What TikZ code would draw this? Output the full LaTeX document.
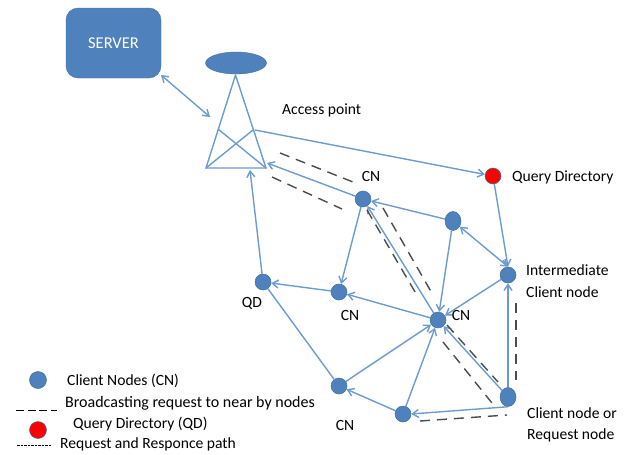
\documentclass[tikz,border=0pt]{standalone}
\usepackage{fontspec}
\setmainfont{Carlito}
\usetikzlibrary{arrows.meta,shapes.geometric}
\definecolor{nodeblue}{HTML}{4F81BD}
\definecolor{nodeedge}{HTML}{41719C}
\definecolor{linkblue}{HTML}{6B9BD0}
\tikzset{
  cnode/.style={circle,fill=nodeblue,draw=nodeedge,line width=0.5pt,minimum size=16pt,inner sep=0pt},
  tallnode/.style={ellipse,fill=nodeblue,draw=nodeedge,line width=0.5pt,minimum width=16pt,minimum height=19pt,inner sep=0pt},
  qnode/.style={circle,fill=red,draw=nodeedge,line width=0.5pt,minimum size=16pt,inner sep=0pt},
  link/.style={draw=linkblue,line width=1.4pt,-{Straight Barb[length=6pt,width=8pt]}},
  duplex/.style={draw=linkblue,line width=1.4pt,{Straight Barb[length=6pt,width=8pt]}-{Straight Barb[length=6pt,width=8pt]}},
  plain/.style={draw=linkblue,line width=1.4pt},
  bcast/.style={draw=black!70,line width=1.4pt,dash pattern=on 10pt off 7pt},
  lbl/.style={font=\fontsize{15.6pt}{18pt}\selectfont,text=black,inner sep=0pt}
}
\begin{document}
\begin{tikzpicture}[x=1pt,y=-1pt]
\useasboundingbox (0,0) rectangle (629,455);
% server and antenna
\node[draw=nodeedge,fill=nodeblue,rounded corners=12pt,minimum width=95pt,minimum height=70pt,inner sep=0pt,text=white,font=\fontsize{16.5pt}{18pt}\selectfont] (server) at (113.5,43) {SERVER};
\node[ellipse,draw=nodeedge,fill=nodeblue,minimum width=61pt,minimum height=22pt,inner sep=0pt] (dish) at (236,63) {};
% tower
\coordinate (apex) at (235.5,75);
\coordinate (bl) at (206,168);
\coordinate (br) at (266,168);
\coordinate (xa) at (253,130);
\coordinate (xb) at (218,129);
\coordinate (tin) at (210,117);
\coordinate (tout) at (255,130);
\coordinate (tcn) at (267,163);
\coordinate (tqd) at (250,170);
\coordinate (sout) at (161,75);
\draw[plain] (bl) -- (apex) -- (br) -- cycle;
\draw[plain] (bl) -- (xa);
\draw[plain] (xb) -- (br);
% nodes
\node[cnode] (cn1) at (363,199) {};
\node[tallnode] (n2) at (453,221) {};
\node[cnode] (inter) at (508,275) {};
\node[qnode] (qd) at (493,176) {};
\node[cnode] (cn3) at (339,292) {};
\node[cnode] (qdn) at (263,282) {};
\node[cnode] (center) at (438,320) {};
\node[cnode] (nbot) at (339,386) {};
\node[cnode] (nb2) at (403,414) {};
\node[tallnode] (client) at (508,397) {};
% links
\draw[duplex] (sout) -- (tin);
\draw[link] (tout) -- (qd);
\draw[link] (cn1) -- (tcn);
\draw[link] (qdn) -- (tqd);
\draw[link] (qd) -- (inter.north);
\draw[duplex] (inter.north) -- (n2);
\draw[link] (n2) -- (cn1);
\draw[link] (n2) -- (center);
\draw[link] (inter) -- (center);
\draw[link] (center) -- (cn1);
\draw[link] (cn1) -- (cn3);
\draw[link] (center) -- (cn3);
\draw[link] (cn3) -- (qdn);
\draw[plain] (nbot) -- (qdn);
\draw[link] (nbot) -- (center);
\draw[link] (nb2) -- (center);
\draw[link] (nb2) -- (nbot);
\draw[link] (client.south) -- (nb2.east);
\draw[link] (client) -- (center);
\draw[link] (client) -- (inter);
% broadcast dashes
\coordinate (d1a) at (280,153); \coordinate (d1b) at (358,184);
\coordinate (d2a) at (272,177); \coordinate (d2b) at (342,209);
\coordinate (d3a) at (383,208); \coordinate (d3b) at (433,295);
\coordinate (d4a) at (367,210); \coordinate (d4b) at (418,297);
\coordinate (d5a) at (447,325); \coordinate (d5b) at (498,382);
\coordinate (d6a) at (443,342); \coordinate (d6b) at (492,403);
\coordinate (d7a) at (420,421); \coordinate (d7b) at (507,415);
\coordinate (d8a) at (516,303); \coordinate (d8b) at (516,380);
\foreach \p/\q in {d1a/d1b,d2a/d2b,d3a/d3b,d4a/d4b,d5a/d5b,d6a/d6b,d7a/d7b,d8a/d8b}
  \draw[bcast] (\p) -- (\q);
% labels
\node[lbl,anchor=west] (apl) at (282,110) {Access point};
\node[lbl,anchor=west] (qdl) at (512,177) {Query Directory};
\node[lbl] (cnl1) at (371,176) {CN};
\node[lbl] (qdnl) at (252,303) {QD};
\node[lbl] (cnl3) at (350,315) {CN};
\node[lbl] (cnc) at (461,315) {CN};
\node[lbl] (cnb) at (345,425) {CN};
\node[lbl,anchor=west] (il1) at (526,270) {Intermediate};
\node[lbl,anchor=west] (il2) at (526,292) {Client node};
\node[lbl,anchor=west] (cl1) at (527,413) {Client node  or};
\node[lbl,anchor=west] (cl2) at (527,435) {Request node};
% legend
\node[cnode,minimum size=17pt] (lg1) at (38,380) {};
\node[qnode,minimum size=17pt] (lg2) at (38,430) {};
\coordinate (lga) at (16,410); \coordinate (lgb) at (57,410);
\coordinate (lgc) at (17,445); \coordinate (lgd) at (52,445);
\draw[black,line width=1pt,dash pattern=on 8pt off 3.5pt] (lga) -- (lgb);
\draw[black,line width=0.8pt,dash pattern=on 2.5pt off 1pt] (lgc) -- (lgd);
\node[lbl,anchor=west] (t1) at (67,381) {Client Nodes (CN)};
\node[lbl,anchor=west,font=\fontsize{16pt}{18pt}\selectfont] (t2) at (65,403) {Broadcasting request to near by nodes};
\node[lbl,anchor=west] (t3) at (73,424) {Query Directory (QD)};
\node[lbl,anchor=west] (t4) at (60,444) {Request and Responce path};
\end{tikzpicture}
\end{document}
